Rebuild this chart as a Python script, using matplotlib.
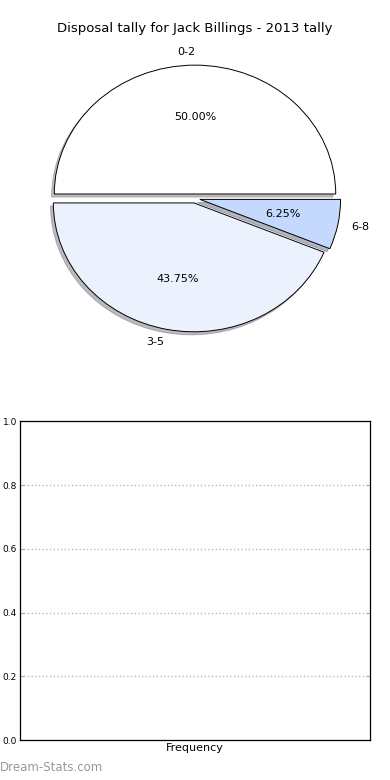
import matplotlib
matplotlib.use("Agg")
import matplotlib.pyplot as plt

# Data
labels = ["0-2", "3-5", "6-8"]
tally = [8, 7, 1]
colors = ["#FFFFFF", "#EBF2FE", "#C5D9FE"]
explode = [0.035, 0.035, 0.035]
yticks = [0.0, 0.2, 0.4, 0.6, 0.8, 1.0]

fig = plt.figure(figsize=(3.9, 7.8), dpi=100)

# Pie chart (top)
ax1 = fig.add_axes([0.049, 0.539, 0.902, 0.413])
wedges, texts, autotexts = ax1.pie(
    tally, labels=labels, colors=colors, explode=explode,
    autopct="%.2f%%", shadow={"ox": -0.014, "oy": -0.017, "shade": 0.5},
    startangle=0,
    wedgeprops={"edgecolor": "black", "linewidth": 0.7},
    textprops={"fontsize": 8},
)
ax1.set_aspect("auto")
ax1.set_xlim(-1.25, 1.25)
ax1.set_ylim(-1.25, 1.25)
ax1.set_title("Disposal tally for Jack Billings - 2013 tally", fontsize=9.5, pad=4)

# Empty frequency axes (bottom)
ax2 = fig.add_axes([0.051, 0.051, 0.897, 0.409])
ax2.set_ylim(0, 1)
ax2.set_yticks(yticks)
ax2.set_yticklabels(["%.1f" % v for v in yticks], fontsize=6.5)
ax2.set_xticks([])
ax2.set_xlabel("Frequency", fontsize=8, labelpad=2)
ax2.yaxis.grid(True, linestyle=":", color="#BBBBBB", linewidth=1)
ax2.tick_params(axis="y", direction="in", length=3, right=True, color="#AAAAAA", pad=2)
for s in ax2.spines.values():
    s.set_linewidth(0.9)

fig.text(0.0, 0.0075, "Dream-Stats.com", fontsize=8.5, color="#999999", ha="left", va="bottom")

fig.savefig("out.png", dpi=100)
